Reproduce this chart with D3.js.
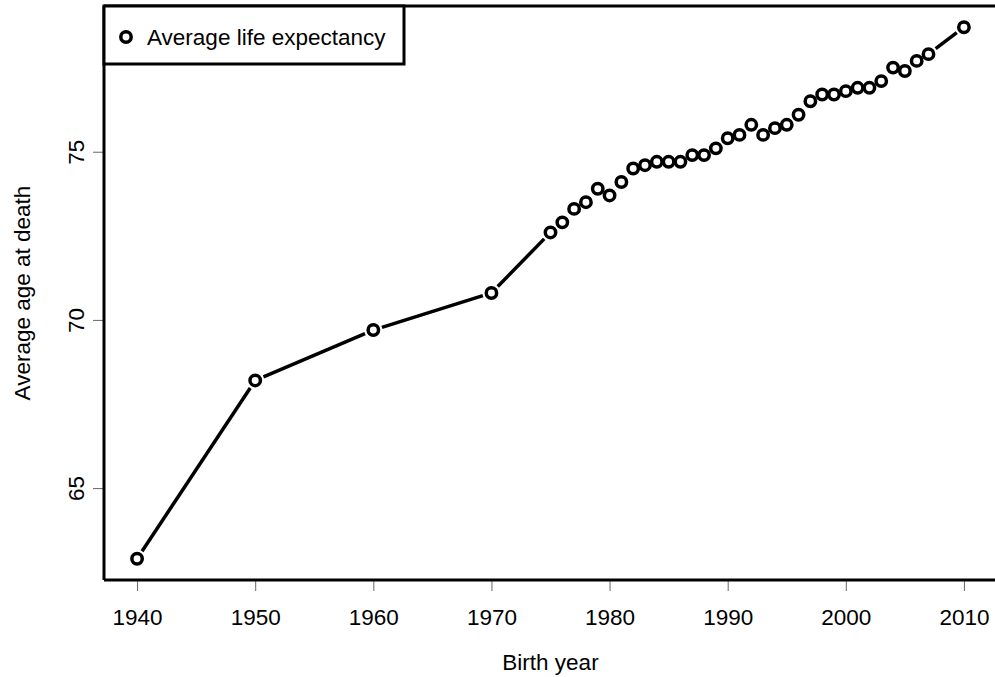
<!DOCTYPE html>
<meta charset="utf-8">
<style>
body { margin: 0; background: #fff; }
svg { font-family: "Liberation Sans", Arial, sans-serif; }
.tick line { stroke: #666; }
</style>
<body>
<svg width="995" height="677"></svg>
<script src="https://d3js.org/d3.v7.min.js"></script>
<script>

var years = [1940, 1950, 1960, 1970,
  1975, 1976, 1977, 1978, 1979, 1980, 1981, 1982, 1983, 1984, 1985, 1986, 1987, 1988, 1989,
  1990, 1991, 1992, 1993, 1994, 1995, 1996, 1997, 1998, 1999,
  2000, 2001, 2002, 2003, 2004, 2005, 2006, 2007, 2010];
var lifeExp = [62.9, 68.2, 69.7, 70.8,
  72.6, 72.9, 73.3, 73.5, 73.9, 73.7, 74.1, 74.5, 74.6, 74.7, 74.7, 74.7, 74.9, 74.9, 75.1,
  75.4, 75.5, 75.8, 75.5, 75.7, 75.8, 76.1, 76.5, 76.7, 76.7,
  76.8, 76.9, 76.9, 77.1, 77.5, 77.4, 77.7, 77.9, 78.7];
var xTicks = [1940, 1950, 1960, 1970, 1980, 1990, 2000, 2010];
var yTicks = [65, 70, 75];
var seriesName = "Average life expectancy";

var svg = d3.select("svg"),
    m = {left: 104, right: 997, top: 6, bottom: 580},
    fs = 22.5;

var data = years.map(function(d, i) { return {year: d, value: lifeExp[i]}; });

// R-style 4% padding on each side
var xr = d3.extent(years), yr = d3.extent(lifeExp);
var xp = (xr[1] - xr[0]) * 0.04, yp = (yr[1] - yr[0]) * 0.04;
var x = d3.scaleLinear().domain([xr[0] - xp, xr[1] + xp]).range([m.left, m.right]);
var y = d3.scaleLinear().domain([yr[0] - yp, yr[1] + yp]).range([m.bottom, m.top]);

// axes
var xAxis = svg.append("g")
    .attr("transform", "translate(0," + m.bottom + ")")
    .call(d3.axisBottom(x).tickValues(xTicks).tickFormat(d3.format("d")).tickSize(11));
xAxis.select(".domain").remove();
xAxis.selectAll(".tick text")
    .attr("font-size", fs).attr("fill", "#000")
    .attr("y", 37).attr("dy", "0.35em");

var yAxis = svg.append("g")
    .attr("transform", "translate(" + m.left + ",0)")
    .call(d3.axisLeft(y).tickValues(yTicks).tickSize(11));
yAxis.select(".domain").remove();
yAxis.selectAll(".tick text")
    .attr("font-size", fs).attr("fill", "#000")
    .attr("x", null).attr("dy", "0.35em")
    .attr("text-anchor", "middle")
    .attr("transform", "translate(-28,0) rotate(-90)");

// frame lines: left, bottom, top
var frame = svg.append("g").attr("stroke", "#000").attr("stroke-width", 3).attr("fill", "none");
frame.append("line").attr("x1", m.left).attr("x2", m.left).attr("y1", m.top).attr("y2", m.bottom);
frame.append("line").attr("x1", m.left).attr("x2", 995).attr("y1", m.bottom).attr("y2", m.bottom);
frame.append("line").attr("x1", m.left).attr("x2", 995).attr("y1", m.top).attr("y2", m.top);

// type="b": segments with gaps around the points
var gap = 9;
var segs = [];
for (var i = 1; i < data.length; i++) {
  var x0 = x(data[i - 1].year), y0 = y(data[i - 1].value),
      x1 = x(data[i].year), y1 = y(data[i].value),
      dx = x1 - x0, dy = y1 - y0, len = Math.sqrt(dx * dx + dy * dy);
  if (len > 2 * gap) {
    segs.push([x0 + dx / len * gap, y0 + dy / len * gap, x1 - dx / len * gap, y1 - dy / len * gap]);
  }
}
svg.append("g").selectAll("line")
  .data(segs)
  .enter().append("line")
    .attr("x1", function(d) { return d[0]; })
    .attr("y1", function(d) { return d[1]; })
    .attr("x2", function(d) { return d[2]; })
    .attr("y2", function(d) { return d[3]; })
    .attr("stroke", "#000")
    .attr("stroke-width", 3.5);

svg.append("g").selectAll("circle")
  .data(data)
  .enter().append("circle")
    .attr("cx", function(d) { return x(d.year); })
    .attr("cy", function(d) { return y(d.value); })
    .attr("r", 5.2)
    .attr("fill", "none")
    .attr("stroke", "#000")
    .attr("stroke-width", 3.5);

// axis titles
svg.append("text")
    .attr("x", (m.left + m.right) / 2)
    .attr("y", 662)
    .attr("dy", "0.35em")
    .attr("text-anchor", "middle")
    .attr("font-size", fs)
    .text("Birth year");

svg.append("text")
    .attr("transform", "translate(22," + (m.top + m.bottom) / 2 + ") rotate(-90)")
    .attr("dy", "0.35em")
    .attr("text-anchor", "middle")
    .attr("font-size", fs)
    .text("Average age at death");

// legend
var legend = svg.append("g");
legend.append("rect")
    .attr("x", m.left).attr("y", m.top)
    .attr("width", 300).attr("height", 58)
    .attr("fill", "#fff")
    .attr("stroke", "#000")
    .attr("stroke-width", 3);
legend.append("circle")
    .attr("cx", 126).attr("cy", 37).attr("r", 5.2)
    .attr("fill", "none").attr("stroke", "#000").attr("stroke-width", 3.5);
legend.append("text")
    .attr("x", 147).attr("y", 37)
    .attr("dy", "0.35em")
    .attr("font-size", fs)
    .text(seriesName);

</script>
</body>
